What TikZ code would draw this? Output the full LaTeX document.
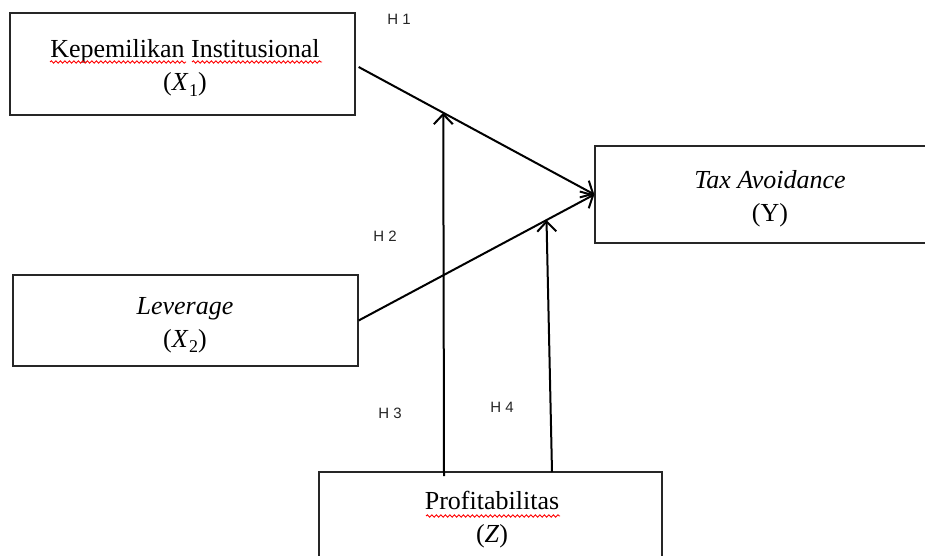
\documentclass[tikz,border=0pt]{standalone}
\usepackage{fontspec}
\setmainfont{Liberation Serif}
\setsansfont{Liberation Sans}
\usetikzlibrary{arrows.meta,calc,decorations.pathmorphing}
\newcommand{\vsub}[2]{(\textit{#1}\kern0.5pt\raisebox{-0.22em}{\fontsize{18}{18}\selectfont #2})}
\tikzset{
  box/.style={draw=black!85, line width=1.3pt, inner sep=0pt},
  lbl/.style={font=\fontsize{26}{33}\selectfont, align=center, inner sep=0pt},
  hyp/.style={font=\sffamily\fontsize{15}{17}\selectfont, text=black!85, inner sep=0pt},
  conn/.style={line width=2pt, -{Straight Barb[length=10pt,width=19pt,line width=2pt]}},
  spell/.style={red, line width=0.9pt, decorate, decoration={snake, segment length=4.5pt, amplitude=1.2pt}}
}
\begin{document}
\begin{tikzpicture}[x=1pt,y=-1pt]
\useasboundingbox (0,0) rectangle (925,556);
\clip (0,0) rectangle (925,556);
\fill[white] (0,0) rectangle (925,556);

% boxes
\node[box, minimum width=345pt, minimum height=102pt] (x1) at (182.5,64) {};
\node[box, minimum width=345pt, minimum height=91pt] (x2) at (185.5,320.5) {};
\node[box, minimum width=350pt, minimum height=97pt] (y) at (770,194.5) {};
\node[box, minimum width=343pt, minimum height=128pt] (z) at (490.5,536) {};

% texts
\node[lbl] (tx1) at (185,68) {Kepemilikan Institusional\\\vsub{X}{1}};
\node[lbl] (tx2) at (185,325) {\textit{Leverage}\\\vsub{X}{2}};
\node[lbl] (ty) at (770,199) {\textit{Tax Avoidance}\\(Y)};
\node[lbl] (tz) at (492,520) {Profitabilitas\\(\textit{Z})};

% spell-check underlines
\draw[spell] (50,62) -- (186,62);
\draw[spell] (192,62) -- (322,62);
\draw[spell] (426,516) -- (560,516);

% hypothesis labels
\node[hyp] (h1) at (399,19) {H 1};
\node[hyp] (h2) at (385,236) {H 2};
\node[hyp] (h3) at (390,413) {H 3};
\node[hyp] (h4) at (502,407) {H 4};

% connectors
\coordinate (a1) at ($(x1.east)+(3,3)$);
\coordinate (a2) at (x2.east);
\draw[conn] (a1) -- (y.west);
\draw[conn] (a2) -- (y.west);
\coordinate (m1) at ($(a1)!0.359!(y.west)$);
\coordinate (m2) at ($(a2)!0.797!(y.west)$);
\coordinate (z1) at (444,476);
\coordinate (z2) at (552,472);
\draw[conn] (z1) -- (m1);
\draw[conn] (z2) -- (m2);
\end{tikzpicture}
\end{document}
